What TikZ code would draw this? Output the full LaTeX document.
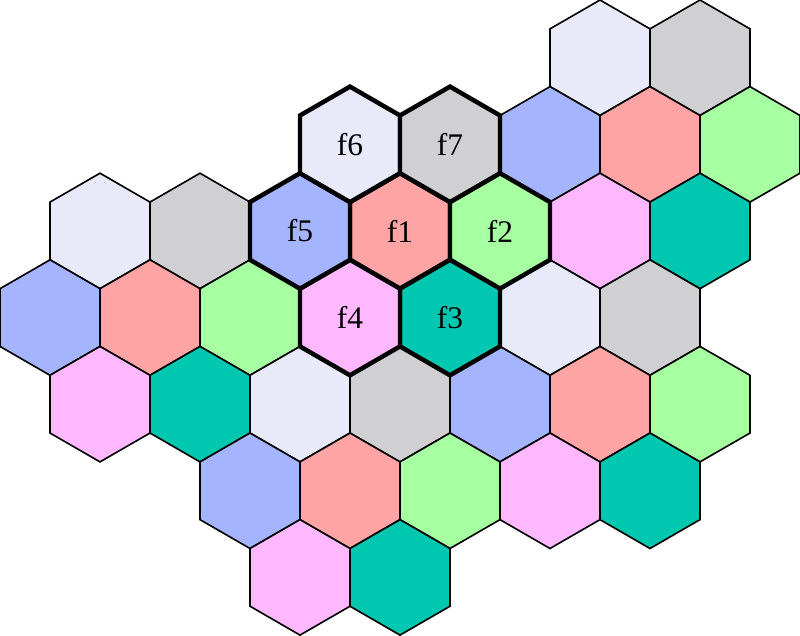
\documentclass[tikz,border=0pt]{standalone}
\usepackage{amsmath}
\usepackage{fontspec}
\setmainfont{Liberation Serif}
\usepackage{tikz}
\usetikzlibrary{shapes.geometric}

\definecolor{lav}{HTML}{E8EAFA}
\definecolor{grey}{HTML}{D0D0D2}
\definecolor{blu}{HTML}{A4B4FF}
\definecolor{rd}{HTML}{FFA4A4}
\definecolor{grn}{HTML}{A6FFA0}
\definecolor{mag}{HTML}{FFB8FF}
\definecolor{teal}{HTML}{00C8B0}

\begin{document}
\begin{tikzpicture}[x=0.866cm,y=1.5cm]
  \tikzstyle{hex}=[regular polygon,regular polygon sides=6,shape border rotate=30,
                   minimum size=2cm,inner sep=0pt,outer sep=0pt,draw=black,line width=0.8pt]
  \tikzstyle{cell}=[hex,line width=2.2pt,font=\fontsize{15.5}{18}\selectfont]
  \useasboundingbox (0,{2/3}) rectangle (16,{-20/3});

  % row 0
  \node[hex,fill=lav]  (h12r0) at (12,0) {};
  \node[hex,fill=grey] (h14r0) at (14,0) {};
  % row 1
  \node[hex,fill=blu]  (h11r1) at (11,-1) {};
  \node[hex,fill=rd]   (h13r1) at (13,-1) {};
  \node[hex,fill=grn]  (h15r1) at (15,-1) {};
  % row 2
  \node[hex,fill=lav]  (h2r2)  at (2,-2) {};
  \node[hex,fill=grey] (h4r2)  at (4,-2) {};
  \node[hex,fill=mag]  (h12r2) at (12,-2) {};
  \node[hex,fill=teal] (h14r2) at (14,-2) {};
  % row 3
  \node[hex,fill=blu]  (h1r3)  at (1,-3) {};
  \node[hex,fill=rd]   (h3r3)  at (3,-3) {};
  \node[hex,fill=grn]  (h5r3)  at (5,-3) {};
  \node[hex,fill=lav]  (h11r3) at (11,-3) {};
  \node[hex,fill=grey] (h13r3) at (13,-3) {};
  % row 4
  \node[hex,fill=mag]  (h2r4)  at (2,-4) {};
  \node[hex,fill=teal] (h4r4)  at (4,-4) {};
  \node[hex,fill=lav]  (h6r4)  at (6,-4) {};
  \node[hex,fill=grey] (h8r4)  at (8,-4) {};
  \node[hex,fill=blu]  (h10r4) at (10,-4) {};
  \node[hex,fill=rd]   (h12r4) at (12,-4) {};
  \node[hex,fill=grn]  (h14r4) at (14,-4) {};
  % row 5
  \node[hex,fill=blu]  (h5r5)  at (5,-5) {};
  \node[hex,fill=rd]   (h7r5)  at (7,-5) {};
  \node[hex,fill=grn]  (h9r5)  at (9,-5) {};
  \node[hex,fill=mag]  (h11r5) at (11,-5) {};
  \node[hex,fill=teal] (h13r5) at (13,-5) {};
  % row 6
  \node[hex,fill=mag]  (h6r6)  at (6,-6) {};
  \node[hex,fill=teal] (h8r6)  at (8,-6) {};

  % the seven cells round f1
  \node[cell,fill=rd]   (f1) at (8,-2) {f1};
  \node[cell,fill=grn]  (f2) at (10,-2) {f2};
  \node[cell,fill=teal] (f3) at (9,-3) {f3};
  \node[cell,fill=mag]  (f4) at (7,-3) {f4};
  \node[cell,fill=blu]  (f5) at (6,-2) {f5};
  \node[cell,fill=lav]  (f6) at (7,-1) {f6};
  \node[cell,fill=grey] (f7) at (9,-1) {f7};
\end{tikzpicture}
\end{document}
